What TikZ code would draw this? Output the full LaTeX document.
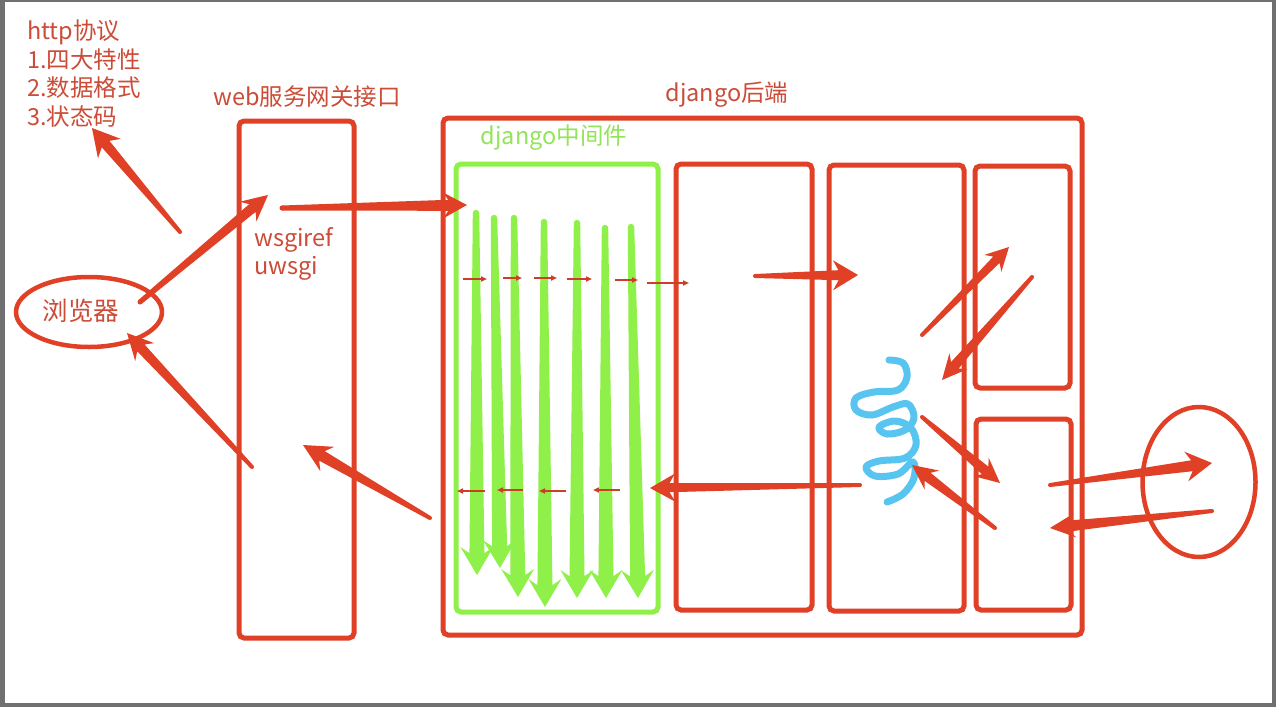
\documentclass[tikz,border=0pt]{standalone}
\usepackage{fontspec}
\setmainfont{Noto Sans CJK SC}
\usetikzlibrary{calc,arrows.meta,shapes.geometric}
\definecolor{framegray}{RGB}{112,112,112}
\definecolor{redline}{RGB}{224,64,38}
\definecolor{redtext}{RGB}{204,76,56}
\definecolor{greenline}{RGB}{142,240,72}
\definecolor{greentext}{RGB}{146,228,88}
\definecolor{bluec}{RGB}{88,196,240}
\definecolor{smallred}{RGB}{205,62,40}
\tikzset{
  box/.style={draw=redline, line width=5pt, rounded corners=5pt, inner sep=0pt},
  gbox/.style={draw=greenline, line width=5pt, rounded corners=5pt, inner sep=0pt},
  oval/.style={draw=redline, line width=4.5pt, ellipse, inner sep=0pt},
  lbl/.style={text=redtext, font=\fontsize{23.5}{28}\selectfont, inner sep=0pt},
  glbl/.style={text=greentext, font=\fontsize{23.5}{28}\selectfont, inner sep=0pt},
  small/.style={draw=smallred, line width=1.8pt, -{Triangle[length=6pt,width=5pt]}}
}
% tapered arrow: #1 colour, #2 from, #3 to, #4 half start width, #5 half end width, #6 head length, #7 head half width
\newcommand\tarrow[7]{%
  \pgfmathsetmacro\tjl{0.78*#6}%
  \path coordinate (tH) at ($(#3)!#6pt!(#2)$) coordinate (tJ) at ($(#3)!\tjl pt!(#2)$);
  \fill[#1] ($(#2)!#4pt!90:(#3)$) -- ($(tJ)!#5pt!90:(#3)$) -- ($(tH)!#7pt!90:(#3)$) -- (#3)
     -- ($(tH)!#7pt!-90:(#3)$) -- ($(tJ)!#5pt!-90:(#3)$) -- ($(#2)!#4pt!-90:(#3)$) -- cycle;
  \fill[#1] (#2) circle (#4pt);
}
\begin{document}
\begin{tikzpicture}[x=1pt,y=-1pt]
\useasboundingbox (0,0) rectangle (1276,707);
\fill[framegray] (0,0) rectangle (1276,707);
\fill[white] (5,2) rectangle (1272,703);

% texts
\node[lbl, anchor=west] (http) at (27,32) {http协议};
\node[lbl, anchor=west] (t1) at (27,60) {1.四大特性};
\node[lbl, anchor=west] (t2) at (27,88) {2.数据格式};
\node[lbl, anchor=west] (t3) at (27,116) {3.状态码};
\node[lbl] (webt) at (307,97) {web服务网关接口};
\node[lbl] (djt) at (727,95) {django后端};
\node[glbl] (mwt) at (554,138) {django中间件};

% boxes
\node[box, minimum width=115pt, minimum height=517pt] (wsgi) at (296.5,379.5) {};
\node[box, minimum width=639pt, minimum height=517pt] (django) at (762.5,376.5) {};
\node[gbox, minimum width=202pt, minimum height=448pt] (mw) at (557,388) {};
\node[box, minimum width=136pt, minimum height=446pt] (bA) at (744,387) {};
\node[box, minimum width=135pt, minimum height=446pt] (bB) at (896.5,388) {};
\node[box, minimum width=95pt, minimum height=222pt] (bC) at (1022.5,277) {};
\node[box, minimum width=95pt, minimum height=191pt] (bD) at (1023.5,514.5) {};
\node[oval, minimum width=146pt, minimum height=70pt] (browser) at (89,312) {};
\node[text=redtext, font=\fontsize{25.5}{28}\selectfont, inner sep=0pt] (browsert) at (81,311) {浏览器};
\node[oval, minimum width=113pt, minimum height=150pt] (db) at (1199,482) {};
\node[lbl, anchor=west] (ws1) at (254,240) {wsgiref};
\node[lbl, anchor=west] (ws2) at (254,268) {uwsgi};

% green arrows
\foreach \i/\sx/\sy/\tx/\ty in {1/476/213/477/575, 2/494/218/500/568, 3/514/218/518/597, 4/544/222/545/607, 5/577/223/577/598, 6/605/228/606/598, 7/631/227/638/598}{
  \coordinate (gs\i) at (\sx,\sy);
  \coordinate (gt\i) at (\tx,\ty);
  \tarrow{greenline}{gs\i}{gt\i}{3.2}{7.5}{28}{16.5}
}

% small red arrows (forward)
\foreach \i/\a/\b/\y in {1/463/487/279, 2/503/522/278, 3/534/557/278, 4/567/592/279, 5/615/638/280, 6/647/689/283}{
  \coordinate (fs\i) at (\a,\y);
  \coordinate (fe\i) at (\b,\y);
  \draw[small] (fs\i) -- (fe\i);
}
% small red arrows (backward)
\foreach \i/\a/\b/\y in {1/485/457/491, 2/523/497/490, 3/566/539/491, 4/620/593/490}{
  \coordinate (bs\i) at (\a,\y);
  \coordinate (be\i) at (\b,\y);
  \draw[small] (bs\i) -- (be\i);
}

% blue coil
\draw[bluec, line width=7pt, line cap=round, line join=round] plot[smooth, tension=0.6] coordinates {
 (889,360) (903,363) (907,377) (898,390) (874,392) (856,398) (856,410) (872,415) (893,407) (908,404)
 (914,418) (905,430) (887,434) (879,427) (895,421) (911,428) (916,445) (905,458) (879,461) (866,467)
 (875,476) (898,474) (913,462) (914,478) (903,494) (887,502)};

% big red arrows
\coordinate (a1s) at (180,232); \coordinate (a1e) at (92,128);
\coordinate (a2s) at (140,302); \coordinate (a2e) at (268,195);
\coordinate (a3s) at (282,208); \coordinate (a3e) at (467,205);
\coordinate (a4s) at (430,518); \coordinate (a4e) at (303,445);
\coordinate (a5s) at (252,467); \coordinate (a5e) at (127,333);
\coordinate (a6s) at (755,276); \coordinate (a6e) at (858,275);
\coordinate (a7s) at (922,335); \coordinate (a7e) at (1009,247);
\coordinate (a8s) at (1032,277); \coordinate (a8e) at (942,380);
\coordinate (a9s) at (922,417); \coordinate (a9e) at (1000,483);
\coordinate (a10s) at (995,528); \coordinate (a10e) at (912,465);
\coordinate (a11s) at (1050,485); \coordinate (a11e) at (1212,463);
\coordinate (a12s) at (1212,511); \coordinate (a12e) at (1050,528);
\coordinate (a13s) at (860,485); \coordinate (a13e) at (650,488);

\tarrow{redline}{a1s}{a1e}{2}{5}{27}{15}
\tarrow{redline}{a2s}{a2e}{2.5}{5}{26}{13}
\tarrow{redline}{a3s}{a3e}{2.5}{5.5}{24}{13}
\tarrow{redline}{a4s}{a4e}{2}{5.5}{28}{14}
\tarrow{redline}{a5s}{a5e}{2}{5}{26}{13}
\tarrow{redline}{a6s}{a6e}{2}{5}{25}{15}
\tarrow{redline}{a7s}{a7e}{2}{4.5}{23}{12}
\tarrow{redline}{a8s}{a8e}{2}{5}{25}{12}
\tarrow{redline}{a9s}{a9e}{2}{5}{25}{12}
\tarrow{redline}{a10s}{a10e}{2}{5}{25}{12}
\tarrow{redline}{a11s}{a11e}{2}{5.5}{26}{15}
\tarrow{redline}{a12s}{a12e}{2}{5.5}{25}{12}
\tarrow{redline}{a13s}{a13e}{2}{4.5}{25}{14}
\end{tikzpicture}
\end{document}
